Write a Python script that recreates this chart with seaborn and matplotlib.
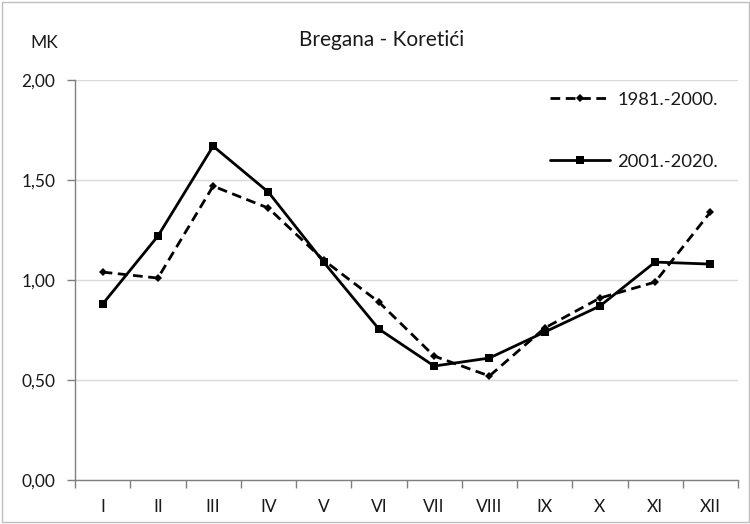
import matplotlib
matplotlib.use("Agg")
import matplotlib.pyplot as plt
import seaborn as sns
import pandas as pd
from matplotlib.patches import Rectangle
from matplotlib.ticker import FixedLocator, FuncFormatter

months = ["I", "II", "III", "IV", "V", "VI", "VII", "VIII", "IX", "X", "XI", "XII"]
period_old = "1981.-2000."
period_new = "2001.-2020."
mk_old = [1.04, 1.01, 1.47, 1.36, 1.10, 0.89, 0.62, 0.52, 0.76, 0.91, 0.99, 1.34]
mk_new = [0.88, 1.22, 1.67, 1.44, 1.09, 0.755, 0.57, 0.61, 0.74, 0.87, 1.09, 1.08]

df = pd.DataFrame({
    "mjesec": months * 2,
    "MK": mk_old + mk_new,
    "razdoblje": [period_old] * len(months) + [period_new] * len(months),
})

sns.set_theme(style="white")
plt.rcParams["font.family"] = ["Lato", "DejaVu Sans"]

fig = plt.figure(figsize=(7.5, 5.24), dpi=100)
ax = fig.add_axes([0.1, 0.084, 0.884, 0.763])

sns.lineplot(
    data=df, x="mjesec", y="MK", style="razdoblje", ax=ax,
    color="black", linewidth=2.0, sort=False,
    markers={period_old: "D", period_new: "s"},
    dashes={period_old: (3.5, 2.0), period_new: ""},
    markersize=6, markeredgewidth=0,
    style_order=[period_old, period_new],
)
# smaller diamond markers for the older period
for line in ax.get_lines():
    if line.get_marker() == "D":
        line.set_markersize(4.5)

ax.set_ylim(0, 2.0)
ax.set_xlim(-0.5, len(months) - 0.5)
ax.set_yticks([0, 0.5, 1.0, 1.5, 2.0])
ax.yaxis.set_major_formatter(FuncFormatter(lambda v, p: f"{v:.2f}".replace(".", ",")))
ax.grid(axis="y", color="#d9d9d9", linewidth=1.0)
ax.set_axisbelow(True)

ax.set_xticks(range(len(months)))
ax.set_xticklabels(months)
ax.xaxis.set_minor_locator(FixedLocator([i - 0.5 for i in range(len(months) + 1)]))
ax.tick_params(axis="x", which="major", length=0, pad=14, labelsize=12.5, colors="#1a1a1a")
ax.tick_params(axis="x", which="minor", length=6, width=1, color="#7f7f7f", bottom=True)
ax.tick_params(axis="y", which="major", length=6, width=1, color="#7f7f7f",
               left=True, labelsize=12.5, colors="#1a1a1a", pad=8)

for s in ["top", "right"]:
    ax.spines[s].set_visible(False)
for s in ["left", "bottom"]:
    ax.spines[s].set_color("#7f7f7f")
    ax.spines[s].set_linewidth(1.0)

ax.set_xlabel("")
ax.set_ylabel("")

leg = ax.legend(
    title=None, frameon=False, loc="upper right",
    bbox_to_anchor=(0.995, 1.012), fontsize=13.2,
    handlelength=3.3, labelspacing=2.5, handletextpad=0.4,
)
for t in leg.get_texts():
    t.set_color("#1a1a1a")

fig.text(0.509, 0.923, "Bregana - Koretići", ha="center", va="center",
         fontsize=15, color="#1a1a1a")
fig.text(0.04, 0.917, "MK", ha="left", va="center", fontsize=12.5, color="#1a1a1a")

fig.patches.append(Rectangle((0.002, 0.003), 0.996, 0.994, transform=fig.transFigure,
                             fill=False, edgecolor="#bfbfbf", linewidth=1.0))

fig.savefig("out.png", dpi=100)
